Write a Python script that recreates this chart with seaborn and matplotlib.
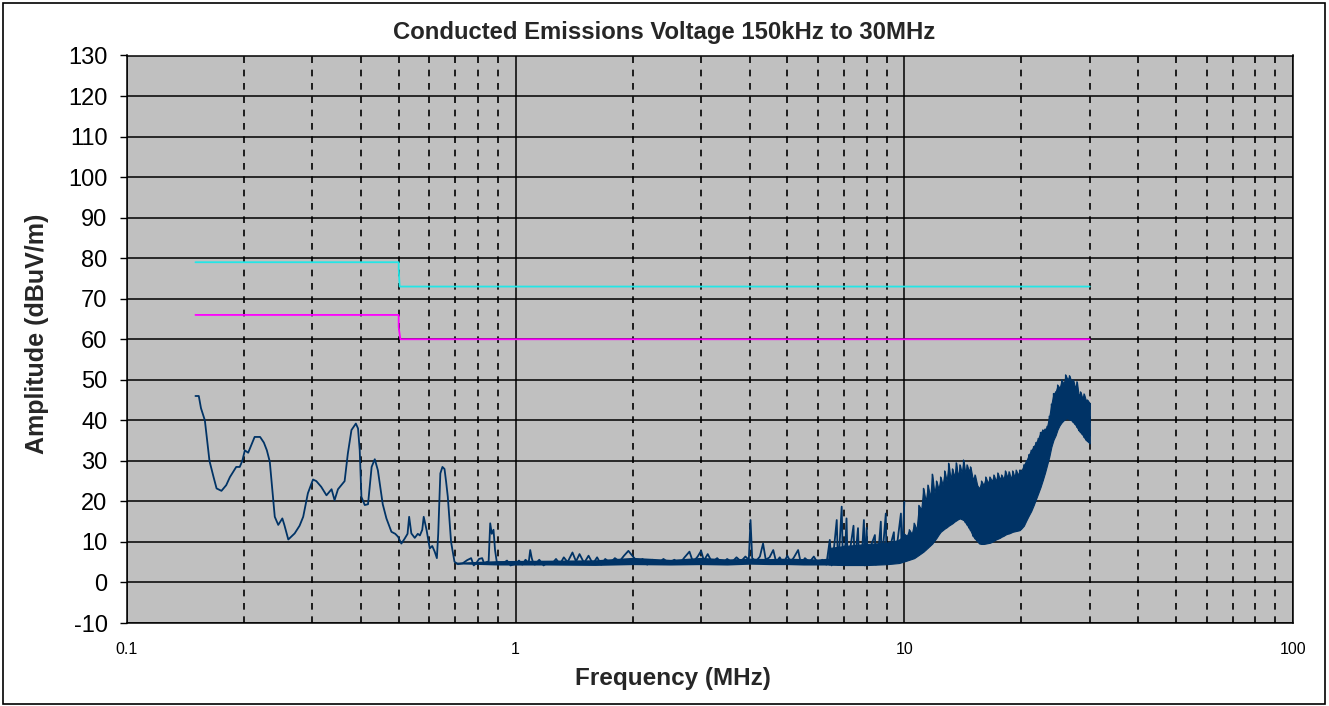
"""
Conducted emissions scan 150 kHz - 30 MHz with class limits.
"""

import matplotlib
matplotlib.use("Agg")
import numpy as np
import pandas as pd
import matplotlib.pyplot as plt
import seaborn as sns
from matplotlib.patches import Rectangle

# limit lines (MHz, dBuV)
limit_freq_hi = [0.15, 0.5, 0.5, 0.503, 30.0]
limit_hi = [79, 79, 77.5, 73, 73]
limit_freq_lo = [0.15, 0.5, 0.5, 0.505, 30.0]
limit_lo = [66, 66, 63, 60, 60]

trace_freq = [
    0.150, 0.153, 0.155, 0.1586, 0.163, 0.167, 0.170, 0.175, 0.180, 0.184,
    0.191, 0.195, 0.198, 0.201, 0.205, 0.209, 0.213, 0.220, 0.225, 0.229,
    0.233, 0.237, 0.240, 0.245, 0.251, 0.254, 0.260, 0.270, 0.278, 0.284,
    0.292, 0.301, 0.307, 0.316, 0.326, 0.336, 0.342, 0.349, 0.356, 0.363,
    0.370, 0.378, 0.388, 0.393, 0.397, 0.401, 0.409, 0.417, 0.426, 0.434,
    0.442, 0.455, 0.465, 0.479, 0.490, 0.498, 0.508, 0.518, 0.527, 0.532,
    0.539, 0.550, 0.560, 0.567, 0.575, 0.580, 0.590, 0.601, 0.610, 0.619,
    0.627, 0.632, 0.640, 0.648, 0.656, 0.662, 0.669, 0.682, 0.696, 0.710,
    0.730, 0.750, 0.768, 0.780, 0.791, 0.805, 0.820, 0.830, 0.840, 0.852,
    0.860, 0.868, 0.877, 0.885, 0.894, 0.910, 0.930, 0.950, 0.970, 1.000,
    1.020, 1.040, 1.060, 1.080, 1.090, 1.100, 1.110,
    1.12, 1.15, 1.18, 1.21, 1.24, 1.27, 1.30, 1.33, 1.36, 1.40,
    1.43, 1.46, 1.50, 1.54, 1.58, 1.62, 1.66, 1.70, 1.75, 1.80,
    1.85, 1.90, 1.95, 1.98, 2.02, 2.06, 2.12, 2.18, 2.25, 2.32,
    2.40, 2.48, 2.56, 2.64, 2.72, 2.80, 2.86, 2.94, 3.00, 3.05,
    3.12, 3.20, 3.30, 3.40, 3.50, 3.60, 3.70, 3.80, 3.90, 3.98,
    4.02, 4.06, 4.15, 4.25, 4.33, 4.40, 4.50, 4.60, 4.68, 4.78,
    4.88, 5.00, 5.10, 5.20, 5.33, 5.42, 5.55, 5.70, 5.85, 6.00,
    6.15, 6.30, 6.43,
    6.50, 6.60, 6.70, 6.75, 6.82, 6.90, 6.95, 7.05, 7.10, 7.15,
    7.25, 7.40, 7.45, 7.60, 7.65, 7.80, 7.87, 7.92, 8.00, 8.05,
    8.20, 8.40, 8.45, 8.60, 8.70, 8.75, 8.96, 9.00, 9.20, 9.40,
    9.45, 9.60, 9.80, 9.85, 10.0,
]
trace_level = [
    46, 46, 43, 40, 30, 26, 23.2, 22.6, 24, 26,
    28.5, 28.5, 30, 32.6, 32, 34, 35.9, 35.9, 34.5, 32.6,
    29.8, 22, 16.2, 14.2, 15.8, 14.2, 10.6, 12.1, 14, 16.2,
    22, 25.4, 25, 23.6, 21.5, 23, 20.3, 23, 24, 25,
    31.8, 37.6, 39.2, 38, 32.6, 21.1, 19.1, 19.3, 28.5, 30.4,
    27.7, 19.3, 15.8, 12.5, 12, 11.3, 9.6, 10.8, 12, 16.2,
    12.1, 11, 12, 11.6, 13, 16.2, 12.9, 8.4, 9, 7.6,
    6.0, 12, 26.9, 28.5, 28, 25, 21.1, 10.0, 5.1, 4.5,
    4.7, 5.5, 6, 4.2, 4.7, 5.8, 6, 4.6, 5, 5.2,
    14.6, 12, 13, 8, 5.1, 4.6, 4.8, 5.4, 4.2, 4.6,
    5.4, 4.4, 5.6, 4.8, 8, 6, 4.8,
    4.4, 5.6, 4.2, 5.0, 4.6, 5.8, 4.5, 6.2, 5.0, 7.4,
    5.2, 7.0, 4.8, 6.6, 4.6, 6.2, 4.4, 5.8, 4.8, 6.0,
    5.2, 6.6, 7.8, 7.0, 6.0, 4.6, 5.8, 4.4, 5.6, 4.6,
    5.8, 4.8, 5.6, 4.6, 6.2, 7.6, 5.0, 6.4, 7.8, 5.4,
    7.0, 5.0, 6.0, 4.6, 5.8, 5.0, 6.2, 5.2, 6.4, 5.6,
    15.4, 6.0, 5.2, 6.4, 9.6, 5.6, 6.2, 8.0, 5.0, 6.2,
    4.6, 6.6, 5.0, 6.2, 8.0, 4.6, 6.0, 5.0, 6.4, 4.6,
    5.6, 4.4, 10.5,
    4.2, 9, 15.4, 4.4, 10, 18.7, 4.5, 9, 15.8, 4.3,
    8, 14, 4.4, 13.4, 4.3, 9, 15.4, 4.2, 13.5, 4.5,
    9, 11.7, 4.4, 9, 15, 4.6, 17, 4.5, 9, 12.4,
    4.8, 10, 17, 5, 19.9,
]

# noise floor 0.7 - 6.4 MHz (thick jittery baseline)
floor_freq = [0.70, 0.9, 1.2, 1.6, 2.0, 2.5, 3.0, 3.5, 4.0, 4.5, 5.0, 5.5, 6.0, 6.4]
floor_low = [4.6, 4.3, 4.3, 4.2, 4.4, 4.3, 4.4, 4.3, 4.5, 4.4, 4.4, 4.3, 4.3, 4.3]
floor_high = [5.0, 5.4, 5.5, 5.6, 6.2, 5.7, 6.2, 5.8, 6.0, 5.9, 6.0, 5.9, 5.8, 6.0]

# dense part of the scan: lower / upper envelope of the band
band_freq = [
    6.4, 7.0, 8.0, 9.0, 9.7, 10.0, 10.15, 10.3, 10.45, 10.6,
    10.75, 10.9, 11.05, 11.2, 11.35, 11.5, 11.65, 11.8, 11.95, 12.1,
    12.25, 12.4, 12.55, 12.7, 12.85, 13.0, 13.15, 13.3, 13.45, 13.6,
    13.75, 13.9, 14.05, 14.2, 14.35, 14.5, 14.65, 14.8, 15.0, 15.2,
    15.4, 15.6, 15.8, 16.0, 16.2, 16.4, 16.6, 16.8, 17.0, 17.2,
    17.4, 17.6, 17.8, 18.0, 18.2, 18.4, 18.6, 18.8, 19.0, 19.2,
    19.4, 19.6, 19.8, 20.0, 20.3, 20.6, 20.9, 21.2, 21.5, 21.8,
    22.1, 22.4, 22.7, 23.0, 23.3, 23.6, 23.9, 24.2, 24.5, 24.8,
    25.1, 25.4, 25.7, 26.0, 26.3, 26.6, 26.9, 27.2, 27.5, 27.8,
    28.1, 28.4, 28.7, 29.0, 29.3, 29.6, 30.0,
]
band_high = [
    8.5, 9.0, 9.5, 9.8, 10.5, 12.0, 11.5, 13.0, 12.0, 14.6,
    13.0, 19.0, 18.0, 23.2, 20.0, 24.0, 21.0, 26.7, 22.0, 25.0,
    23.0, 26.0, 24.0, 27.5, 25.0, 29.4, 25.5, 28.0, 26.0, 29.5,
    26.0, 29.0, 27.0, 30.2, 27.0, 29.0, 27.5, 28.5, 25.5, 26.5,
    24.0, 23.2, 25.0, 24.0, 26.0, 24.5, 26.0, 25.0, 26.5, 25.0,
    27.0, 25.5, 26.5, 25.5, 27.5, 26.0, 27.3, 25.5, 27.5, 26.0,
    27.7, 26.5, 27.7, 27.5, 29.0, 30.0, 31.5, 32.6, 33.5, 34.5,
    35.5, 37.0, 37.6, 37.8, 38.5, 41.0, 44.0, 46.6, 47.0, 48.7,
    48.0, 50.0, 49.0, 51.2, 50.0, 51.0, 49.5, 50.0, 48.0, 49.5,
    46.0, 47.0, 45.5, 46.5, 45.0, 45.0, 44.2,
]
band_low = [
    4.4, 4.3, 4.3, 4.5, 4.8, 5.2, 5.4, 5.6, 5.8, 6.0,
    6.4, 6.8, 7.2, 7.6, 8.1, 8.6, 9.1, 9.6, 10.3, 11.0,
    11.8, 12.5, 12.9, 13.3, 13.6, 14.0, 14.3, 14.6, 15.0, 15.3,
    15.6, 15.8, 15.6, 15.4, 14.8, 14.2, 13.5, 12.8, 11.5, 10.8,
    10.2, 9.6, 9.5, 9.5, 9.6, 9.7, 9.8, 10.0, 10.3, 10.6,
    10.8, 11.0, 11.3, 11.5, 11.8, 12.0, 12.1, 12.3, 12.5, 12.6,
    12.7, 12.8, 12.9, 13.3, 14.0, 15.3, 16.5, 17.6, 19.0, 20.5,
    22.0, 23.5, 25.2, 27.0, 29.0, 31.0, 33.5, 35.2, 36.3, 37.8,
    38.8, 39.5, 40.0, 40.4, 40.5, 40.2, 40.0, 39.5, 39.0, 38.3,
    37.5, 37.0, 36.5, 35.8, 35.2, 34.8, 34.3,
]

y_ticks = list(range(-10, 131, 10))
x_major = [0.1, 1, 10, 100]
x_major_labels = ["0.1", "1", "10", "100"]

TRACE = "#003366"

sns.set_theme(style="white")
plt.rcParams["font.family"] = ["Liberation Sans", "DejaVu Sans"]
plt.rcParams["axes.unicode_minus"] = False

W, H = 1329, 706
fig = plt.figure(figsize=(W / 100, H / 100), dpi=100)
fig.patch.set_facecolor("white")
ax = fig.add_axes([127 / W, 1 - 623 / H, (1293 - 127) / W, (623 - 55.5) / H])
ax.set_facecolor("#c0c0c0")
ax.set_xscale("log")
ax.set_xlim(0.1, 100)
ax.set_ylim(-10, 130)

# grid like the Excel export: solid majors, dashed minors on x
ax.set_axisbelow(True)
ax.set_yticks(y_ticks)
ax.set_xticks(x_major)
ax.set_xticklabels(x_major_labels)
minors = [m * d for d in (0.1, 1, 10) for m in range(2, 10)]
ax.set_xticks(minors, minor=True)
ax.xaxis.set_minor_formatter(matplotlib.ticker.NullFormatter())
ax.grid(which="major", axis="both", color="black", lw=1.1, ls="-")
ax.grid(which="minor", axis="x", color="black", lw=1.2, ls=(0, (4, 4)))
for s in ax.spines.values():
    s.set_color("black")
    s.set_linewidth(1.1)

ax.tick_params(axis="x", which="both", length=0, pad=14, labelsize=11.5, colors="black")
ax.tick_params(axis="y", length=5, width=1, pad=9, labelsize=17, direction="out",
               left=True, colors="black")

# noise floor and dense band first, then the trace on top
ax.fill_between(floor_freq, floor_low, floor_high, color=TRACE, lw=0)
ax.fill_between(band_freq, band_low, band_high, color=TRACE, lw=0.8, edgecolor=TRACE)
zig_f = [f for f in band_freq for _ in (0, 1)]
zig_v = [v for lo, hi in zip(band_low, band_high) for v in (lo, hi)]
sns.lineplot(x=zig_f, y=zig_v, ax=ax, color=TRACE, lw=1.0, estimator=None, sort=False)
sns.lineplot(x=trace_freq, y=trace_level, ax=ax, color=TRACE, lw=1.3,
             estimator=None, sort=False)
sns.lineplot(x=limit_freq_hi, y=limit_hi, ax=ax, color="#22e6e6", lw=1.3,
             estimator=None, sort=False)
sns.lineplot(x=limit_freq_lo, y=limit_lo, ax=ax, color="#ff00ff", lw=1.3,
             estimator=None, sort=False)
ax.set_xlabel("")
ax.set_ylabel("")

fig.text(0.5, 1 - 33 / H, "Conducted Emissions Voltage 150kHz to 30MHz",
         ha="center", va="center", fontsize=17.2, fontweight="bold")
fig.text(673 / W, 1 - 678 / H, "Frequency (MHz)", ha="center", va="center",
         fontsize=17.5, fontweight="bold")
fig.text(37 / W, 1 - 334 / H, "Amplitude (dBuV/m)", ha="center", va="center",
         rotation=90, fontsize=18, fontweight="bold")

fig.patches.append(Rectangle((3 / W, 2 / H), 1322 / W, 701 / H, transform=fig.transFigure,
                             fill=False, edgecolor="black", lw=1.2))

fig.savefig("out.png", dpi=100)
